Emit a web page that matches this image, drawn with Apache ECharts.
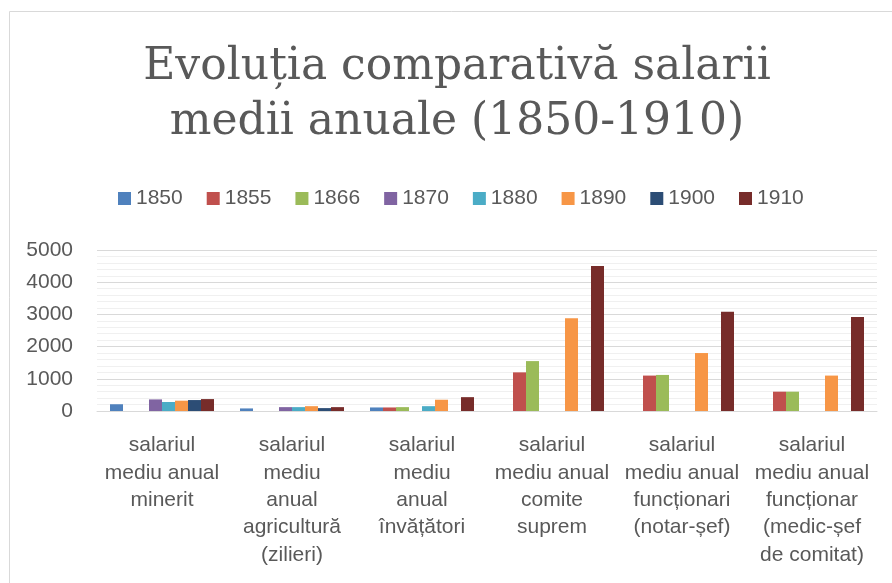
<!DOCTYPE html>
<html>
<head>
<meta charset="utf-8">
<script src="https://cdn.jsdelivr.net/npm/echarts@6/dist/echarts.min.js"></script>
<style>
  html, body { margin: 0; padding: 0; background: #fff; }
  #chart { width: 892px; height: 583px; }
</style>
</head>
<body>
<div id="chart"></div>
<script>
// categorii (etichete axa X, cu ruperile de rand din original)
var categories = [
  "salariul\nmediu anual\nminerit",
  "salariul\nmediu\nanual\nagricultură\n(zilieri)",
  "salariul\nmediu\nanual\nînvățători",
  "salariul\nmediu anual\ncomite\nsuprem",
  "salariul\nmediu anual\nfuncționari\n(notar-șef)",
  "salariul\nmediu anual\nfuncționar\n(medic-șef\nde comitat)"
];

var years = ["1850", "1855", "1866", "1870", "1880", "1890", "1900", "1910"];

// valori (null = fara bara)
var v1850 = [210, 80, 110, null, null, null];
var v1855 = [null, null, 110, 1200, 1100, 600];
var v1866 = [null, null, 120, 1550, 1120, 600];
var v1870 = [360, 120, null, null, null, null];
var v1880 = [280, 120, 150, null, null, null];
var v1890 = [320, 150, 350, 2880, 1800, 1100];
var v1900 = [340, 90, null, null, null, null];
var v1910 = [370, 120, 430, 4500, 3080, 2920];

var yTicks = [0, 1000, 2000, 3000, 4000, 5000];

var values = [v1850, v1855, v1866, v1870, v1880, v1890, v1900, v1910];
var colors = ["#4f81bd", "#c0504d", "#9bbb59", "#8064a2", "#4bacc6", "#f79646", "#2c4d75", "#772c2a"];

var labelFont = '"Liberation Sans", Arial, sans-serif';
var textColor = "#595959";

var myChart = echarts.init(document.getElementById("chart"));

var series = years.map(function (y, i) {
  return {
    name: y,
    type: "bar",
    data: values[i],
    barGap: 0,
    barCategoryGap: "20%",
    itemStyle: { color: colors[i] }
  };
});

var option = {
  animation: false,
  color: colors,
  graphic: [
    {
      type: "rect",
      shape: { x: 9.5, y: 11.5, width: 900, height: 600 },
      style: { fill: "none", stroke: "#d9d9d9", lineWidth: 1 },
      silent: true
    },
    // titlul (centrat putin la dreapta, ca in original)
    {
      type: "text",
      x: 457,
      y: 40,
      silent: true,
      style: {
        text: "Evoluția comparativă salarii\nmedii anuale (1850-1910)",
        align: "center",
        verticalAlign: "top",
        fontFamily: '"DejaVu Serif", serif',
        fontSize: 44,
        lineHeight: 55,
        fill: textColor
      }
    }
  ],
  legend: {
    data: years,
    left: 113,
    top: 183,
    icon: "rect",
    itemWidth: 13,
    itemHeight: 13,
    itemGap: 24,
    textStyle: {
      fontFamily: labelFont,
      fontSize: 21,
      color: textColor
    }
  },
  grid: {
    left: 97,
    right: 15,
    top: 250,
    bottom: 172,
    containLabel: false
  },
  xAxis: {
    type: "category",
    data: categories,
    axisTick: { show: false },
    axisLine: { lineStyle: { color: "#d9d9d9", width: 1 } },
    axisLabel: {
      interval: 0,
      margin: 21,
      fontFamily: labelFont,
      fontSize: 21,
      lineHeight: 27.3,
      color: textColor,
      align: "center"
    }
  },
  yAxis: {
    type: "value",
    min: yTicks[0],
    max: yTicks[yTicks.length - 1],
    interval: 1000,
    axisLine: { show: false },
    axisTick: { show: false },
    axisLabel: {
      margin: 24,
      fontFamily: labelFont,
      fontSize: 21,
      color: textColor,
      formatter: function (v) { return String(v); }
    },
    splitLine: { lineStyle: { color: "#d9d9d9", width: 1 } },
    minorTick: { show: false, splitNumber: 5 },
    minorSplitLine: { show: true, lineStyle: { color: "#f0f0f0", width: 1 } }
  },
  series: series
};

myChart.setOption(option);
window.addEventListener("resize", function () {
  myChart.resize();
});
</script>
</body>
</html>
